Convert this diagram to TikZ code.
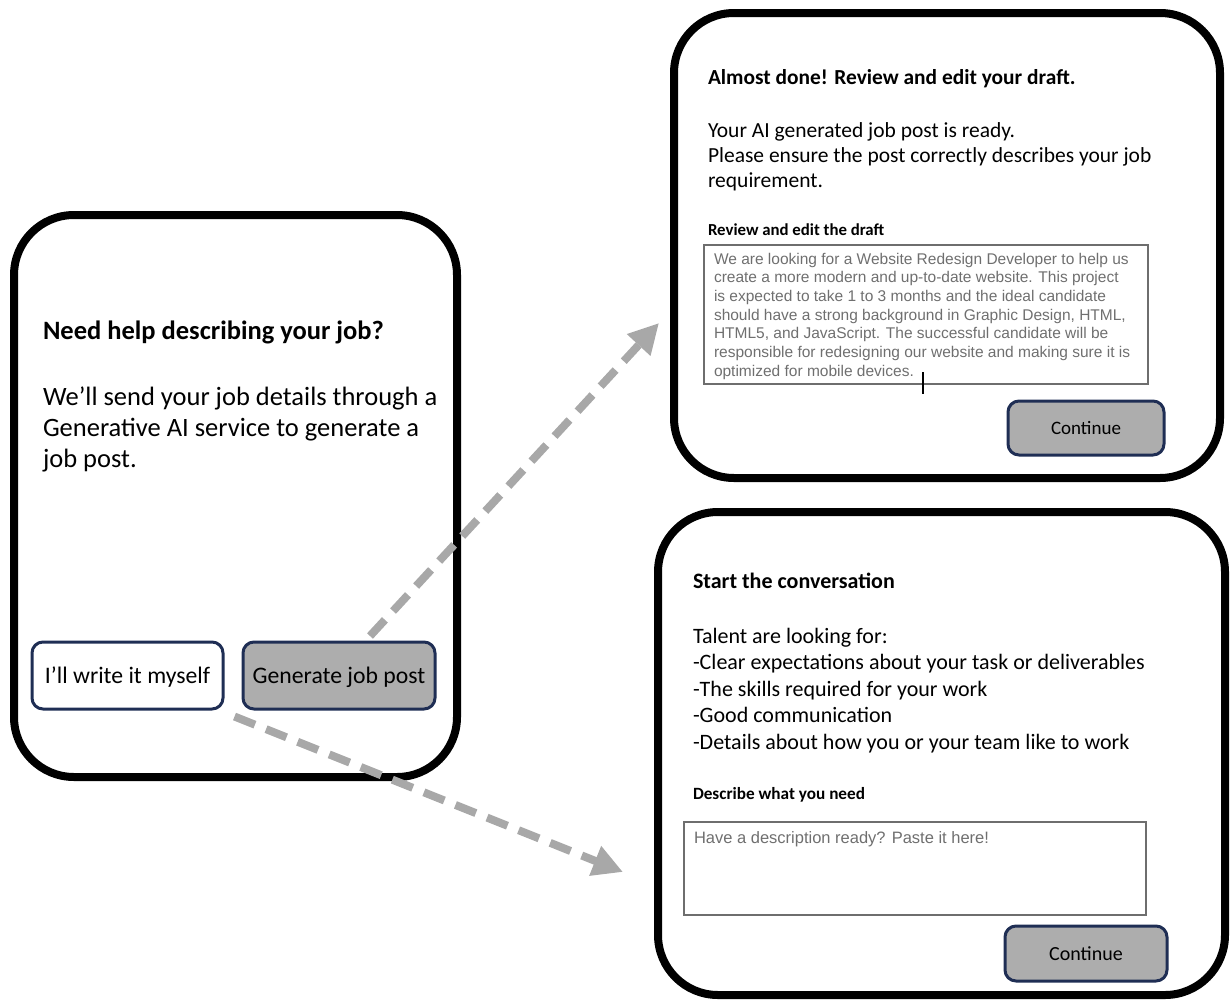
\documentclass[tikz,border=0pt]{standalone}
\usepackage{fontspec}
\setmainfont{Carlito}
\newfontfamily\arialf{Liberation Sans}
\usetikzlibrary{arrows.meta}
\definecolor{btnfill}{HTML}{ADADAD}
\definecolor{navy}{HTML}{1F2E54}
\definecolor{arrowgray}{HTML}{A8A8A8}
\definecolor{boxline}{HTML}{6E6E6E}
\definecolor{graytext}{HTML}{6F6F6F}
\tikzset{
  panel/.style={draw=black, line width=8pt, rounded corners=60pt, minimum width=#1},
  btn/.style={draw=navy, line width=3pt, rounded corners=11pt, inner sep=0pt},
  grayfill/.style={fill=btnfill},
  inbox/.style={draw=boxline, line width=2pt, inner sep=0pt},
  txt/.style={anchor=base west, inner sep=0pt, outer sep=0pt},
  flow/.style={draw=arrowgray, line width=8pt, dash pattern=on 22pt off 12pt,
    -{Triangle[length=30pt,width=30pt]}},
}
\begin{document}
\begin{tikzpicture}[x=1pt,y=-1pt]
\useasboundingbox (0,0) rectangle (1231,1001);
% ---------- left panel ----------
\node[panel=443pt, minimum height=562pt] (p1) at (235.5,496) {};
\node[txt, font=\fontsize{26.5}{30}\selectfont\bfseries] (t1) at (43,339) {Need help describing your job?};
\node[txt, font=\fontsize{26.5}{31}\selectfont] (b1a) at (43,405) {We’ll send your job details through a};
\node[txt, font=\fontsize{26.5}{31}\selectfont] (b1b) at (43,436) {Generative AI service to generate a};
\node[txt, font=\fontsize{26.5}{31}\selectfont] (b1c) at (43,467) {job post.};
\node[btn, minimum width=191pt, minimum height=67pt, font=\fontsize{23.7}{27}\selectfont,
  text height=15pt, text depth=0pt] (write) at (127.5,675.5) {I’ll write it myself};
\node[btn, grayfill, minimum width=192pt, minimum height=67pt, font=\fontsize{23.7}{27}\selectfont,
  text height=15pt, text depth=0pt] (gen) at (339,675.5) {Generate job post};
% ---------- top right panel ----------
\node[panel=546pt, minimum height=465pt] (p2) at (947,245.5) {};
\node[txt, font=\fontsize{21.4}{25}\selectfont\bfseries] (t2) at (708,84) {Almost done! Review and edit your draft.};
\node[txt, font=\fontsize{21.5}{25}\selectfont] (b2a) at (708,137) {Your AI generated job post is ready.};
\node[txt, font=\fontsize{21.5}{25}\selectfont] (b2b) at (708,162) {Please ensure the post correctly describes your job};
\node[txt, font=\fontsize{21.5}{25}\selectfont] (b2c) at (708,187) {requirement.};
\node[txt, font=\fontsize{16.8}{19}\selectfont\bfseries] (l2) at (708,235) {Review and edit the draft};
\node[inbox, minimum width=444pt, minimum height=139pt] (draft) at (926,314.5) {};
\foreach \i/\s in {0/{We are looking for a Website Redesign Developer to help us},
                   1/{create a more modern and up-to-date website. This project},
                   2/{is expected to take 1 to 3 months and the ideal candidate},
                   3/{should have a strong background in Graphic Design, HTML,},
                   4/{HTML5, and JavaScript. The successful candidate will be},
                   5/{responsible for redesigning our website and making sure it is}}
  \node[txt, font=\fontsize{15.5}{18}\selectfont\arialf, text=graytext] (d\i) at (714,264+18.67*\i) {\s};
\node[txt, font=\fontsize{15.5}{18}\selectfont\arialf, text=graytext] (d6) at (714,376) {optimized for mobile devices.};
\coordinate (cur) at ([xshift=9pt]d6.base east);
\draw[line width=1.3pt, black] ([yshift=4pt]cur) -- ([yshift=-18pt]cur);
\node[btn, grayfill, minimum width=156pt, minimum height=54pt, font=\fontsize{19}{22}\selectfont,
  text height=12pt, text depth=0pt] (cont1) at (1086,428) {Continue};
% ---------- bottom right panel ----------
\node[panel=567pt, minimum height=483pt] (p3) at (941.5,753.5) {};
\node[txt, font=\fontsize{22}{25}\selectfont\bfseries] (t3) at (693,588) {Start the conversation};
\node[txt, font=\fontsize{22}{26}\selectfont] (b3a) at (693,643) {Talent are looking for:};
\node[txt, font=\fontsize{22}{26}\selectfont] (b3b) at (693,669) {-Clear expectations about your task or deliverables};
\node[txt, font=\fontsize{22}{26}\selectfont] (b3c) at (693,696) {-The skills required for your work};
\node[txt, font=\fontsize{22}{26}\selectfont] (b3d) at (693,722) {-Good communication};
\node[txt, font=\fontsize{22}{26}\selectfont] (b3e) at (693,749) {-Details about how you or your team like to work};
\node[txt, font=\fontsize{17.2}{20}\selectfont\bfseries] (l3) at (693,799) {Describe what you need};
\node[inbox, minimum width=462pt, minimum height=93pt] (desc) at (915,868.5) {};
\node[txt, font=\fontsize{16.5}{19}\selectfont\arialf, text=graytext] (ph) at (694,843) {Have a description ready? Paste it here!};
\node[btn, grayfill, minimum width=162pt, minimum height=55pt, font=\fontsize{20}{23}\selectfont,
  text height=13pt, text depth=0pt] (cont2) at (1086,953.5) {Continue};
% ---------- connectors ----------
\coordinate (upS) at (370,636);
\coordinate (upE) at (659,323);
\coordinate (loE) at (623,872);
\draw[flow] (upS) -- (upE);
\draw[flow] ([shift={(10pt,-6pt)}]write.south east) -- (loE);
\end{tikzpicture}
\end{document}
